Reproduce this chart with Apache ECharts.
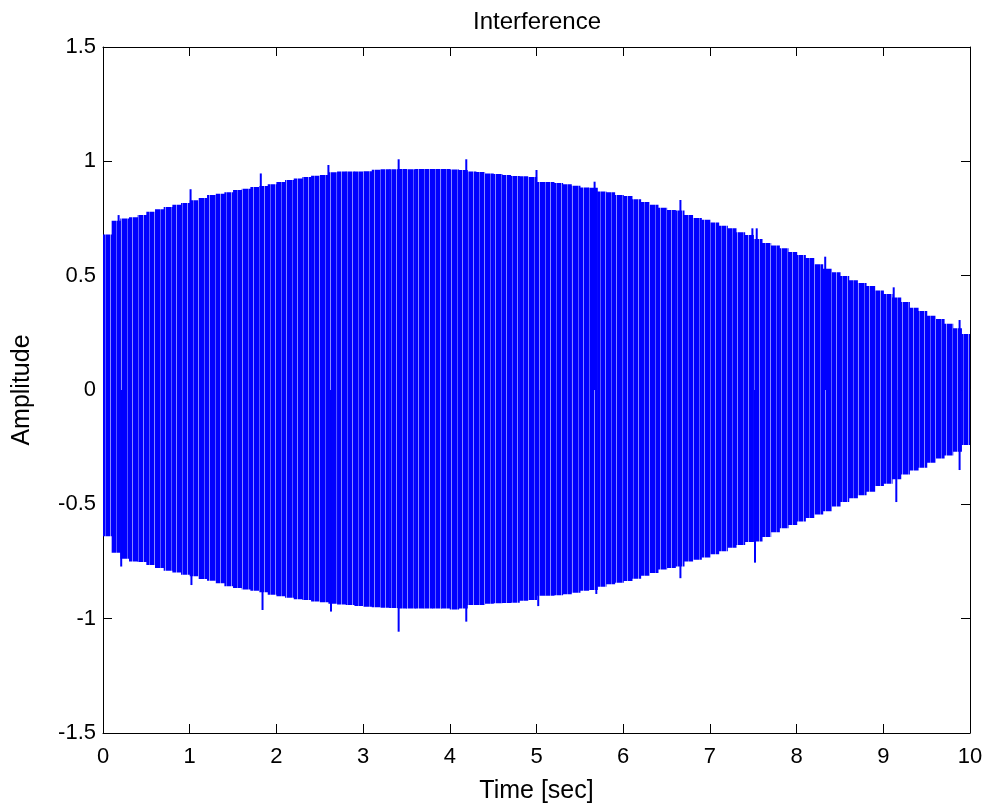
<!DOCTYPE html>
<html>
<head>
<meta charset="utf-8">
<title>Interference</title>
<script src="https://cdn.jsdelivr.net/npm/echarts@6/dist/echarts.min.js"></script>
<style>
  html, body { margin: 0; padding: 0; background: #fff; }
  #main { width: 990px; height: 810px; }
</style>
</head>
<body>
<div id="main"></div>
<script>
// envelope of the signal, one value per 0.1 s slot (slot centres 0.05 .. 9.95)
var step = 0.1;
var slotTimes = [
  0.05, 0.15, 0.25, 0.35, 0.45, 0.55, 0.65, 0.75, 0.85, 0.95,
  1.05, 1.15, 1.25, 1.35, 1.45, 1.55, 1.65, 1.75, 1.85, 1.95,
  2.05, 2.15, 2.25, 2.35, 2.45, 2.55, 2.65, 2.75, 2.85, 2.95,
  3.05, 3.15, 3.25, 3.35, 3.45, 3.55, 3.65, 3.75, 3.85, 3.95,
  4.05, 4.15, 4.25, 4.35, 4.45, 4.55, 4.65, 4.75, 4.85, 4.95,
  5.05, 5.15, 5.25, 5.35, 5.45, 5.55, 5.65, 5.75, 5.85, 5.95,
  6.05, 6.15, 6.25, 6.35, 6.45, 6.55, 6.65, 6.75, 6.85, 6.95,
  7.05, 7.15, 7.25, 7.35, 7.45, 7.55, 7.65, 7.75, 7.85, 7.95,
  8.05, 8.15, 8.25, 8.35, 8.45, 8.55, 8.65, 8.75, 8.85, 8.95,
  9.05, 9.15, 9.25, 9.35, 9.45, 9.55, 9.65, 9.75, 9.85, 9.95
];
var upperEnv = [
  0.68, 0.74, 0.75, 0.755, 0.765, 0.78, 0.79, 0.80, 0.81, 0.818,
  0.83, 0.84, 0.853, 0.858, 0.865, 0.875, 0.88, 0.888, 0.892, 0.90,
  0.91, 0.918, 0.925, 0.932, 0.937, 0.94, 0.952, 0.955, 0.955, 0.956,
  0.957, 0.963, 0.965, 0.965, 0.966, 0.965, 0.966, 0.966, 0.966, 0.966,
  0.964, 0.962, 0.955, 0.953, 0.947, 0.945, 0.94, 0.936, 0.935, 0.932,
  0.91, 0.91, 0.905, 0.90, 0.893, 0.886, 0.884, 0.868, 0.865, 0.853,
  0.848, 0.834, 0.822, 0.81, 0.797, 0.787, 0.785, 0.765, 0.752, 0.745,
  0.732, 0.718, 0.707, 0.69, 0.678, 0.66, 0.643, 0.632, 0.62, 0.603,
  0.59, 0.577, 0.55, 0.53, 0.515, 0.498, 0.48, 0.468, 0.455, 0.435,
  0.42, 0.405, 0.385, 0.36, 0.345, 0.325, 0.31, 0.29, 0.27, 0.245
];
var lowerEnv = [
  -0.64, -0.712, -0.738, -0.75, -0.752, -0.765, -0.778, -0.79, -0.798, -0.808,
  -0.815, -0.826, -0.834, -0.845, -0.858, -0.866, -0.872, -0.878, -0.885, -0.895,
  -0.902, -0.909, -0.915, -0.918, -0.925, -0.928, -0.935, -0.938, -0.94, -0.945,
  -0.948, -0.95, -0.952, -0.953, -0.955, -0.955, -0.955, -0.955, -0.956, -0.956,
  -0.96, -0.955, -0.94, -0.94, -0.935, -0.933, -0.932, -0.93, -0.922, -0.918,
  -0.90, -0.90, -0.898, -0.893, -0.887, -0.878, -0.875, -0.86, -0.85, -0.843,
  -0.835, -0.825, -0.812, -0.80, -0.785, -0.778, -0.772, -0.75, -0.742, -0.732,
  -0.718, -0.705, -0.69, -0.678, -0.665, -0.662, -0.643, -0.622, -0.605, -0.59,
  -0.575, -0.56, -0.545, -0.53, -0.51, -0.49, -0.473, -0.46, -0.445, -0.42,
  -0.41, -0.39, -0.37, -0.352, -0.34, -0.318, -0.30, -0.286, -0.27, -0.24
];

// single cycles that stick out of the envelope
var spikeUpT = [0.18, 1.01, 1.82, 2.6, 3.41, 4.19, 5.0, 5.67, 6.66, 7.49, 7.54, 8.33, 9.12, 9.88];
var spikeUpV = [0.765, 0.878, 0.947, 0.984, 1.009, 1.009, 0.962, 0.911, 0.831, 0.707, 0.707, 0.583, 0.449, 0.306];
var spikeDnT = [0.21, 1.02, 1.84, 2.63, 3.41, 4.19, 5.02, 5.69, 6.66, 7.52, 9.15, 9.88];
var spikeDnV = [-0.772, -0.853, -0.962, -0.969, -1.057, -1.013, -0.945, -0.892, -0.823, -0.755, -0.49, -0.35];

var xTicks = { min: 0, max: 10, interval: 1 };
var yTicks = { min: -1.5, max: 1.5, interval: 0.5 };

var FONT = "Liberation Sans";
var blue = "#0000ff";

// vertical stripe pattern so the dense trace is not a flat block
function stripePattern() {
  var c = document.createElement("canvas");
  c.width = 11; c.height = 4;
  var g = c.getContext("2d");
  g.fillStyle = blue;
  g.fillRect(0, 0, 11, 4);
  g.fillStyle = "#8a8aff";
  g.fillRect(0, 0, 1, 4);
  g.fillStyle = "#5a5aff";
  g.fillRect(6, 0, 1, 4);
  return c;
}
var stripes = stripePattern();

var bandData = [];
for (var i = 0; i < slotTimes.length; i++) {
  bandData.push([slotTimes[i], upperEnv[i], lowerEnv[i]]);
}
var spikeData = [];
for (var j = 0; j < spikeUpT.length; j++) spikeData.push([spikeUpT[j], spikeUpV[j]]);
for (var k = 0; k < spikeDnT.length; k++) spikeData.push([spikeDnT[k], spikeDnV[k]]);

function renderBand(params, api) {
  var t = api.value(0);
  var a = api.coord([Math.max(xTicks.min, t - step / 2), api.value(1)]);
  var b = api.coord([Math.min(xTicks.max, t + step / 2), api.value(2)]);
  return {
    type: "rect",
    shape: { x: a[0], y: a[1], width: b[0] - a[0] + 0.6, height: b[1] - a[1] },
    style: { fill: { image: stripes, repeat: "repeat" } }
  };
}

function renderSpike(params, api) {
  var a = api.coord([api.value(0), api.value(1)]);
  var b = api.coord([api.value(0), 0]);
  return {
    type: "line",
    shape: { x1: a[0], y1: a[1], x2: b[0], y2: b[1] },
    style: { stroke: blue, lineWidth: 2 }
  };
}

function axisCommon(showLabel) {
  return {
    axisLine: { show: true, onZero: false, lineStyle: { color: "#000", width: 1 } },
    axisTick: { show: true, inside: true, length: 9, lineStyle: { color: "#000", width: 1 } },
    axisLabel: { show: showLabel, color: "#000", fontFamily: FONT, fontSize: 22 },
    splitLine: { show: false }
  };
}

var chart = echarts.init(document.getElementById("main"), null, { renderer: "canvas" });

var xBottom = Object.assign(axisCommon(true), {
  type: "value", position: "bottom", min: xTicks.min, max: xTicks.max, interval: xTicks.interval,
  name: "Time [sec]", nameLocation: "middle", nameGap: 46,
  nameTextStyle: { color: "#000", fontFamily: FONT, fontSize: 25 }
});
xBottom.axisLabel.margin = 13;
var xTop = Object.assign(axisCommon(false), {
  type: "value", position: "top", min: xTicks.min, max: xTicks.max, interval: xTicks.interval
});
var yLeft = Object.assign(axisCommon(true), {
  type: "value", position: "left", min: yTicks.min, max: yTicks.max, interval: yTicks.interval,
  name: "Amplitude", nameLocation: "middle", nameGap: 68,
  nameTextStyle: { color: "#000", fontFamily: FONT, fontSize: 25 }
});
yLeft.axisLabel.margin = 7;
var yRight = Object.assign(axisCommon(false), {
  type: "value", position: "right", min: yTicks.min, max: yTicks.max, interval: yTicks.interval
});

chart.setOption({
  animation: false,
  backgroundColor: "#fff",
  title: {
    text: "Interference",
    left: 532,
    textAlign: "center",
    top: 5,
    textStyle: { color: "#000", fontFamily: FONT, fontSize: 24, fontWeight: "normal" }
  },
  grid: { left: 103, right: 20, top: 47, bottom: 77, containLabel: false },
  xAxis: [xBottom, xTop],
  yAxis: [yLeft, yRight],
  series: [
    {
      type: "custom",
      name: "envelope",
      renderItem: renderBand,
      data: bandData,
      clip: true,
      encode: { x: 0, y: [1, 2] }
    },
    {
      type: "custom",
      name: "spikes",
      renderItem: renderSpike,
      data: spikeData,
      clip: true,
      encode: { x: 0, y: 1 }
    }
  ]
});
</script>
</body>
</html>
